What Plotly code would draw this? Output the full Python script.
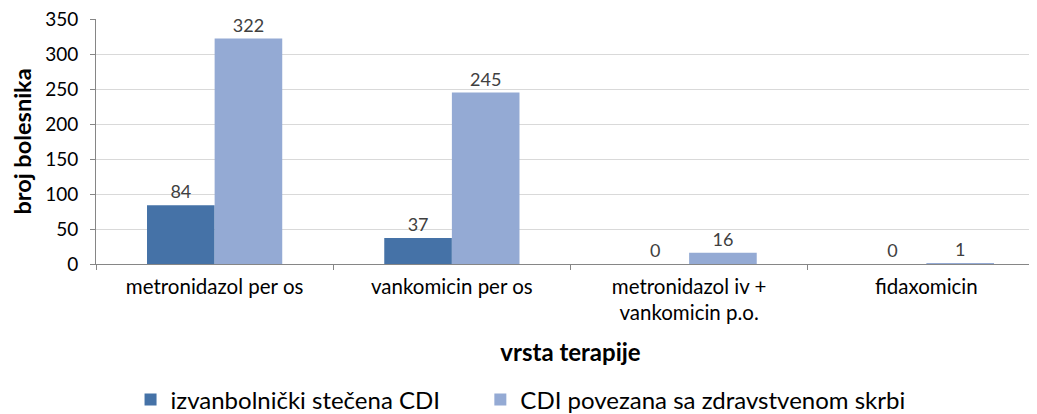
import plotly.graph_objects as go

categories = ["metronidazol per os", "vankomicin per os", "metronidazol iv +<br>vankomicin p.o.", "fidaxomicin"]
series_names = ["izvanbolnički stečena CDI", "CDI povezana sa zdravstvenom skrbi"]
community = [84, 37, 0, 0]
healthcare = [322, 245, 16, 1]
y_ticks = [0, 50, 100, 150, 200, 250, 300, 350]

FONT = "Lato, Calibri, sans-serif"

fig = go.Figure()
fig.add_trace(go.Bar(
    x=categories, y=community, name=series_names[0], legend="legend",
    marker=dict(color="#4572A7", line=dict(width=0)),
    text=[str(v) for v in community], textposition="outside",
    textfont=dict(family=FONT, size=18, color="#404040"), cliponaxis=False,
))
fig.add_trace(go.Bar(
    x=categories, y=healthcare, name=series_names[1], legend="legend2",
    marker=dict(color="#94AAD4", line=dict(width=0)),
    text=[str(v) for v in healthcare], textposition="outside",
    textfont=dict(family=FONT, size=18, color="#404040"), cliponaxis=False,
))

legend_common = dict(orientation="h", y=-0.555, yanchor="middle", xanchor="left",
                     font=dict(family=FONT, size=24, color="#000000"),
                     itemwidth=30, bgcolor="rgba(0,0,0,0)")

fig.update_layout(
    width=1037, height=414,
    margin=dict(l=88, r=0, t=11, b=158, autoexpand=False),
    paper_bgcolor="white", plot_bgcolor="white",
    barmode="group", bargap=0.43, bargroupgap=0,
    font=dict(family=FONT, size=18, color="#000000"),
    showlegend=True,
    legend=dict(x=0.0364, **legend_common),
    legend2=dict(x=0.405, **legend_common),
    xaxis=dict(
        type="category", range=[-0.5, 3.5], automargin=False,
        showline=True, linecolor="#868686", linewidth=1,
        ticks="outside", tickson="boundaries", ticklen=5, tickcolor="#868686",
        tickfont=dict(family=FONT, size=20.5, color="#000000"),
        ticklabelstandoff=4,
        title=dict(text="<b>vrsta terapije</b>", font=dict(family=FONT, size=24, color="#000000"), standoff=20),
        showgrid=False,
    ),
    yaxis=dict(
        range=[0, 350], tickvals=y_ticks, automargin=False,
        showline=True, linecolor="#868686", linewidth=1,
        ticks="outside", ticklen=5, tickcolor="#868686",
        tickfont=dict(family=FONT, size=19, color="#000000"),
        ticklabelstandoff=8, ticklabeloverflow="allow",
        showgrid=True, gridcolor="#D9D9D9", gridwidth=1,
        zeroline=False,
        title=dict(text="<b>broj bolesnika</b>", font=dict(family=FONT, size=23.5, color="#000000"), standoff=10),
    ),
)

fig.write_html("out.html")
